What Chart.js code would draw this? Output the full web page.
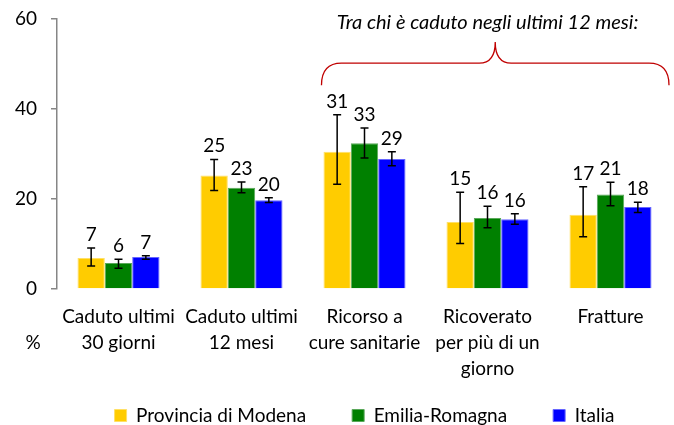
<!DOCTYPE html>
<html>
<head>
<meta charset="utf-8">
<script src="https://cdn.jsdelivr.net/npm/chart.js@4"></script>
<style>
  html,body{margin:0;padding:0;background:#fff;}
  #box{width:674px;height:425px;position:relative;}
</style>
</head>
<body>
<div id="box"><canvas id="grafico"></canvas></div>
<script>

const categorie = [
    ["Caduto ultimi", "30 giorni"],
    ["Caduto ultimi", "12 mesi"],
    ["Ricorso a", "cure sanitarie"],
    ["Ricoverato", "per più di un", "giorno"],
    ["Fratture"]
];

const tickY = [0, 20, 40, 60];

const modena = [6.9, 25.2, 30.5, 14.9, 16.5];
const modenaMin = [5.1, 21.9, 23.3, 10.1, 11.6];
const modenaMax = [9.1, 28.8, 38.7, 21.5, 22.7];
const modenaEtichette = ["7", "25", "31", "15", "17"];

const emilia = [5.8, 22.5, 32.4, 15.8, 21.0];
const emiliaMin = [4.6, 21.4, 29.1, 13.6, 18.5];
const emiliaMax = [6.6, 23.8, 35.8, 18.4, 23.7];
const emiliaEtichette = ["6", "23", "33", "16", "21"];

const italia = [7.1, 19.7, 28.9, 15.5, 18.2];
const italiaMin = [6.6, 19.2, 27.4, 14.4, 17.0];
const italiaMax = [7.4, 20.3, 30.5, 16.7, 19.3];
const italiaEtichette = ["7", "20", "29", "16", "18"];

const titoloGruppo = "Tra chi è caduto negli ultimi 12 mesi:";

const FONT = "Lato";

///////////////////////////////////////////////////////////////

const erroriEtichette = {
    id: "erroriEtichette",
    afterDatasetsDraw(chart){
        const ctx = chart.ctx;
        const y = chart.scales.y;
        chart.data.datasets.forEach((ds, i) => {
            const meta = chart.getDatasetMeta(i);
            meta.data.forEach((bar, j) => {
                const top = y.getPixelForValue(ds.errMax[j]);
                const bot = y.getPixelForValue(ds.errMin[j]);
                ctx.save();
                ctx.strokeStyle = "#000";
                ctx.lineWidth = 1.5;
                ctx.beginPath();
                ctx.moveTo(bar.x, top); ctx.lineTo(bar.x, bot);
                ctx.moveTo(bar.x - 4, top); ctx.lineTo(bar.x + 4, top);
                ctx.moveTo(bar.x - 4, bot); ctx.lineTo(bar.x + 4, bot);
                ctx.stroke();
                ctx.fillStyle = "#000";
                ctx.font = "19px " + FONT;
                ctx.textAlign = "center";
                ctx.textBaseline = "alphabetic";
                ctx.fillText(ds.etichette[j], bar.x, top - 7);
                ctx.restore();
            });
        });
    }
};

const graffa = {
    id: "graffa",
    afterLayout(chart){
        // legenda centrata sull'area del grafico, un po' più in alto
        chart.legend.left = chart.chartArea.left;
        chart.legend.right = chart.chartArea.right;
        chart.legend.top = chart.chartArea.bottom + 71;
    },
    afterDraw(chart){
        const ctx = chart.ctx;
        const x = chart.scales.x;
        const y = chart.scales.y;
        const area = chart.chartArea;
        const meta = chart.getDatasetMeta(0);
        const b = meta.data[2];
        const L = b.x - b.width / 2 - 2;
        const R = area.right - 3;
        const M = (L + R) / 2;
        const yEnd = y.getPixelForValue(45.3);
        const yMid = y.getPixelForValue(50.2);
        const yPeak = y.getPixelForValue(54.9);

        ctx.save();
        ctx.strokeStyle = "#c00000";
        ctx.lineWidth = 1.3;
        ctx.beginPath();
        ctx.moveTo(L, yEnd);
        ctx.quadraticCurveTo(L, yMid, L + 20, yMid);
        ctx.lineTo(M - 16, yMid);
        ctx.quadraticCurveTo(M, yMid, M, yPeak);
        ctx.quadraticCurveTo(M, yMid, M + 16, yMid);
        ctx.lineTo(R - 20, yMid);
        ctx.quadraticCurveTo(R, yMid, R, yEnd);
        ctx.stroke();

        ctx.fillStyle = "#000";
        ctx.font = "italic 20px " + FONT;
        ctx.textAlign = "center";
        ctx.textBaseline = "middle";
        ctx.fillText(titoloGruppo, x.getPixelForValue(3), y.getPixelForValue(59.3));

        ctx.font = "19px " + FONT;
        ctx.fillText("%", area.left - 24, area.bottom + 54);
        ctx.restore();
    }
};

///////////////////////////////////////////////////////////////

function serie(label, dati, min, max, etichette, colore, bordo){
    return {
        label,
        data: dati,
        errMin: min,
        errMax: max,
        etichette,
        backgroundColor: colore,
        borderColor: bordo,
        borderWidth: 1,
        categoryPercentage: 0.667,
        barPercentage: 1
    };
}

const ctx = document.getElementById("grafico").getContext("2d");

new Chart(ctx, {
    type: "bar",
    data: {
        labels: categorie,
        datasets: [
            serie("Provincia di Modena", modena, modenaMin, modenaMax, modenaEtichette, "#ffcc00", "#ffe066"),
            serie("Emilia-Romagna", emilia, emiliaMin, emiliaMax, emiliaEtichette, "#008000", "#5aa85a"),
            serie("Italia", italia, italiaMin, italiaMax, italiaEtichette, "#0000ff", "#6666ff")
        ]
    },
    options: {
        responsive: true,
        maintainAspectRatio: false,
        animation: false,
        layout: {
            padding: {top: 19, right: 2, bottom: 0, left: 0}
        },
        plugins: {
            legend: {
                position: "bottom",
                align: "center",
                maxHeight: 40,
                labels: {
                    boxWidth: 12,
                    boxHeight: 12,
                    padding: 46,
                    color: "#000",
                    font: {family: FONT, size: 19}
                }
            },
            tooltip: {enabled: false}
        },
        scales: {
            x: {
                grid: {display: false, drawTicks: false},
                border: {display: false},
                ticks: {
                    color: "#000",
                    padding: 15,
                    maxRotation: 0,
                    autoSkip: false,
                    font: {family: FONT, size: 19, lineHeight: 1.37}
                },
                afterFit(scale){ scale.height = 96; }
            },
            y: {
                min: 0,
                max: 60,
                afterBuildTicks(scale){ scale.ticks = tickY.map(v => ({value: v})); },
                grid: {
                    drawOnChartArea: false,
                    drawTicks: true,
                    tickLength: 6,
                    color: "#868686",
                    lineWidth: 1.5
                },
                border: {display: true, color: "#868686", width: 1.5},
                ticks: {
                    color: "#000",
                    padding: 14,
                    font: {family: FONT, size: 19}
                },
                afterFit(scale){
                    scale.width = 57;
                    scale.paddingTop = 0;
                    scale.paddingBottom = 0;
                }
            }
        }
    },
    plugins: [erroriEtichette, graffa]
});
</script>
</body>
</html>
